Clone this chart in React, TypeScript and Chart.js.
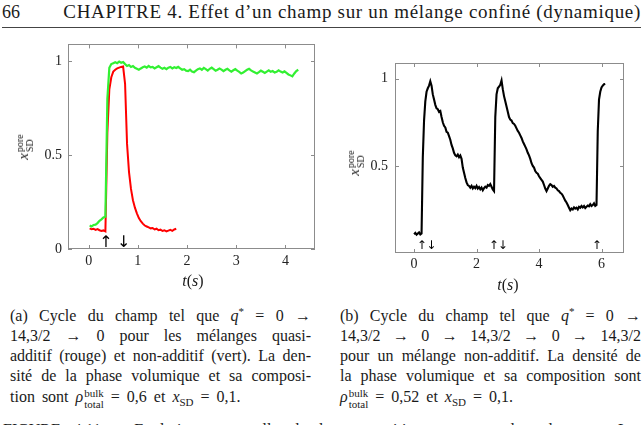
import React, { useEffect, useRef } from "react";
import { Chart, registerables } from "chart.js";
Chart.register(...registerables);

// ---------- data ----------
// left plot: sampled every 0.04 s from t = 0.02 s
const leftStart = 0.02;
const leftStep = 0.04;
const greenValues = [
  0.125, 0.12, 0.128, 0.13, 0.138, 0.15, 0.158, 0.168, 0.172, 0.8,
  0.965, 0.985, 0.99, 0.995, 0.99, 0.998, 0.992, 0.996, 0.985, 0.975,
  0.98, 0.97, 0.975, 0.965, 0.96, 0.955, 0.962, 0.968, 0.972, 0.966,
  0.975, 0.968, 0.97, 0.962, 0.968, 0.974, 0.966, 0.96, 0.965, 0.958,
  0.966, 0.97, 0.962, 0.968, 0.964, 0.97, 0.962, 0.955, 0.958, 0.95,
  0.948, 0.955, 0.945, 0.942, 0.95, 0.958, 0.962, 0.955, 0.965, 0.958,
  0.95, 0.96, 0.966, 0.958, 0.95, 0.955, 0.962, 0.956, 0.948, 0.955,
  0.96, 0.952, 0.945, 0.952, 0.958, 0.95, 0.944, 0.935, 0.94, 0.948,
  0.955, 0.96, 0.952, 0.945, 0.94, 0.935, 0.942, 0.95, 0.944, 0.938,
  0.945, 0.952, 0.944, 0.948, 0.94, 0.944, 0.952, 0.945, 0.94, 0.946,
  0.938, 0.93, 0.925, 0.92, 0.935, 0.948, 0.955,
];
const redValues = [
  0.11, 0.105, 0.108, 0.102, 0.106, 0.1, 0.096, 0.099, 0.094, 0.62,
  0.85, 0.915, 0.945, 0.955, 0.962, 0.966, 0.97, 0.972, 0.88, 0.56,
  0.41, 0.32, 0.26, 0.22, 0.19, 0.165, 0.148, 0.135, 0.125, 0.12,
  0.115, 0.11, 0.112, 0.104, 0.108, 0.1, 0.103, 0.096, 0.1, 0.094,
  0.098, 0.102, 0.097, 0.104, 0.108,
];
// right plot: sampled every 0.04 s from t = 0
const rightStart = 0;
const rightStep = 0.04;
const blackValues = [
  0.108, 0.115, 0.105, 0.112, 0.118, 0.106, 0.112, 0.55, 0.76, 0.87,
  0.925, 0.945, 0.96, 0.985, 0.96, 0.91, 0.88, 0.85, 0.83, 0.825,
  0.81, 0.815, 0.78, 0.75, 0.73, 0.72, 0.695, 0.69, 0.67, 0.65,
  0.62, 0.6, 0.575, 0.56, 0.555, 0.565, 0.55, 0.56, 0.54, 0.49,
  0.46, 0.43, 0.405, 0.39, 0.385, 0.375, 0.385, 0.37, 0.38, 0.372,
  0.385, 0.37, 0.378, 0.365, 0.375, 0.36, 0.372, 0.38, 0.375, 0.39,
  0.385, 0.395, 0.38, 0.365, 0.355, 0.78, 0.91, 0.945, 0.955, 0.965,
  0.99, 0.94, 0.9, 0.87, 0.84, 0.81, 0.78, 0.765, 0.76, 0.745,
  0.74, 0.73, 0.715, 0.7, 0.69, 0.675, 0.66, 0.64, 0.625, 0.61,
  0.595, 0.575, 0.56, 0.54, 0.515, 0.5, 0.49, 0.47, 0.46, 0.455,
  0.44, 0.43, 0.42, 0.41, 0.39, 0.37, 0.355, 0.37, 0.385, 0.395,
  0.39, 0.38, 0.385, 0.375, 0.37, 0.36, 0.355, 0.345, 0.34, 0.33,
  0.315, 0.3, 0.29, 0.275, 0.26, 0.245, 0.255, 0.25, 0.262, 0.255,
  0.26, 0.25, 0.265, 0.26, 0.27, 0.262, 0.27, 0.258, 0.265, 0.272,
  0.268, 0.28, 0.27, 0.275, 0.285, 0.27, 0.275, 0.7, 0.88, 0.925,
  0.95, 0.96, 0.968, 0.97,
];

const leftXTicks = [0, 1, 2, 3, 4];
const leftYTicks = [0, 0.5, 1];
const rightXTicks = [0, 2, 4, 6];
const rightYTicks = [0.5, 1];

const leftArrowTimes = [0.35, 0.71];
const leftArrowSymbols = ["↑", "↓"];
const rightArrowTimes = [0.25, 0.55, 2.55, 2.84, 5.85];
const rightArrowSymbols = ["↑", "↓", "↑", "↓", "↑"];

const SERIF = '"Liberation Serif", "DejaVu Serif", "Times New Roman", Times, serif';

// ---------- helpers ----------
function toPoints(start: number, step: number, values: number[]) {
  return values.map((v, i) => ({ x: +(start + i * step).toFixed(3), y: v }));
}

const framePlugin = {
  id: "frame",
  afterDatasetsDraw(chart: any, _args: any, opts: any) {
    const { ctx, chartArea: a, scales } = chart;
    ctx.save();
    ctx.strokeStyle = "#8c8c8c";
    ctx.lineWidth = 1;
    ctx.strokeRect(Math.round(a.left) + 0.5, Math.round(a.top) + 0.5, Math.round(a.right - a.left) - 1, Math.round(a.bottom - a.top) - 1);
    const L = 4;
    ctx.beginPath();
    opts.xTicks.forEach((v: number) => {
      const px = Math.round(scales.x.getPixelForValue(v)) + 0.5;
      ctx.moveTo(px, a.bottom);
      ctx.lineTo(px, a.bottom - L);
      ctx.moveTo(px, a.top);
      ctx.lineTo(px, a.top + L);
    });
    opts.yTicks.forEach((v: number) => {
      const py = Math.round(scales.y.getPixelForValue(v)) + 0.5;
      ctx.moveTo(a.left, py);
      ctx.lineTo(a.left + L, py);
      ctx.moveTo(a.right, py);
      ctx.lineTo(a.right - L, py);
    });
    ctx.stroke();
    ctx.fillStyle = "#000";
    ctx.font = opts.arrowFont;
    ctx.textAlign = "center";
    ctx.textBaseline = "middle";
    opts.arrowTimes.forEach((t: number, i: number) => {
      ctx.fillText(opts.arrowSymbols[i], scales.x.getPixelForValue(t), scales.y.getPixelForValue(opts.arrowY));
    });
    ctx.restore();
  },
};

type PlotProps = {
  left: number; top: number; width: number; height: number;
  series: { points: { x: number; y: number }[]; color: string; width: number }[];
  xMin: number; xMax: number; yMin: number; yMax: number;
  xTicks: number[]; yTicks: number[];
  yAxisWidth: number; xAxisHeight: number;
  padTop: number; padRight: number;
  xPad: number; yPad: number;
  arrowTimes: number[]; arrowSymbols: string[]; arrowY: number; arrowFont: string;
};

function Plot(p: PlotProps) {
  const ref = useRef<HTMLCanvasElement | null>(null);
  useEffect(() => {
    if (!ref.current) return;
    const tickFont = { family: SERIF, size: 14 };
    const chart = new Chart(ref.current, {
      type: "line",
      data: {
        datasets: p.series.map((s) => ({
          data: s.points,
          borderColor: s.color,
          borderWidth: s.width,
          pointRadius: 0,
          tension: 0,
          fill: false,
        })),
      },
      options: {
        animation: false,
        responsive: false,
        maintainAspectRatio: false,
        layout: { padding: { left: 0, right: p.padRight, top: p.padTop, bottom: 0 }, autoPadding: false },
        plugins: {
          legend: { display: false },
          tooltip: { enabled: false },
          frame: {
            xTicks: p.xTicks, yTicks: p.yTicks,
            arrowTimes: p.arrowTimes, arrowSymbols: p.arrowSymbols, arrowY: p.arrowY, arrowFont: p.arrowFont,
          },
        } as any,
        scales: {
          x: {
            type: "linear",
            min: p.xMin,
            max: p.xMax,
            grid: { display: false, drawTicks: false },
            border: { display: false },
            afterBuildTicks: (s: any) => { s.ticks = p.xTicks.map((v) => ({ value: v })); },
            afterFit: (s: any) => { s.height = p.xAxisHeight; },
            ticks: { font: tickFont, color: "#222", padding: p.xPad, maxRotation: 0, autoSkip: false, callback: (v: any) => String(v) },
          },
          y: {
            type: "linear",
            min: p.yMin,
            max: p.yMax,
            grid: { display: false, drawTicks: false },
            border: { display: false },
            afterBuildTicks: (s: any) => { s.ticks = p.yTicks.map((v) => ({ value: v })); },
            afterFit: (s: any) => { s.width = p.yAxisWidth; },
            ticks: { font: tickFont, color: "#222", padding: p.yPad, autoSkip: false, callback: (v: any) => String(v) },
          },
        },
      } as any,
      plugins: [framePlugin as any],
    });
    return () => chart.destroy();
  }, []);
  return (
    <canvas
      ref={ref}
      width={p.width}
      height={p.height}
      style={{ position: "absolute", left: p.left, top: p.top, width: p.width, height: p.height }}
    />
  );
}

const scriptStack = (sup: string, sub: string, size = 10, raise = 6) => (
  <span
    style={{
      display: "inline-flex",
      flexDirection: "column",
      fontSize: size,
      lineHeight: `${size}px`,
      verticalAlign: `${raise}px`,
      marginLeft: 1,
    }}
  >
    <span>{sup}</span>
    <span>{sub}</span>
  </span>
);

function YTitle({ cx, cy }: { cx: number; cy: number }) {
  return (
    <div
      style={{
        position: "absolute",
        left: cx,
        top: cy,
        transform: "translate(-50%, -50%) rotate(-90deg)",
        whiteSpace: "nowrap",
        fontSize: 15,
        lineHeight: "15px",
      }}
    >
      <i>x</i>
      {scriptStack("pore", "SD", 10, 5)}
    </div>
  );
}

function XTitle({ cx, cy }: { cx: number; cy: number }) {
  return (
    <div
      style={{
        position: "absolute",
        left: cx,
        top: cy,
        transform: "translate(-50%, -50%)",
        whiteSpace: "nowrap",
        fontSize: 16,
        lineHeight: "16px",
      }}
    >
      <i>t</i>(<i>s</i>)
    </div>
  );
}

function JLine({ left, width, top, words, justify = true }: { left: number; width: number; top: number; words: React.ReactNode[]; justify?: boolean }) {
  return (
    <div
      style={{
        position: "absolute",
        left,
        top,
        width,
        display: "flex",
        alignItems: "baseline",
        justifyContent: justify ? "space-between" : "flex-start",
        gap: justify ? 0 : 7,
        whiteSpace: "nowrap",
        fontSize: 16,
        lineHeight: "19px",
      }}
    >
      {words.map((w, i) => (
        <span key={i}>{w}</span>
      ))}
    </div>
  );
}

const qStar = (
  <span>
    <i>q</i>
    <sup style={{ fontSize: 11, verticalAlign: "6px", lineHeight: 0 }}>*</sup>
  </span>
);
const rho = (
  <span>
    <i>ρ</i>
    {scriptStack("bulk", "total", 11, 5)}
  </span>
);
const xSD = (
  <span>
    <i>x</i>
    <sub style={{ fontSize: 11, lineHeight: 0 }}>SD</sub>
  </span>
);

export default function App() {
  const capA = 10;
  const capAW = 301;
  const capB = 340;
  const capBW = 301;
  const lineTops = [306, 326, 346, 366, 387];
  return (
    <div
      style={{
        position: "fixed",
        left: 0,
        top: 0,
        width: 644,
        height: 425,
        overflow: "hidden",
        background: "#fff",
        color: "#1a1a1a",
        fontFamily: SERIF,
      }}
    >
      {/* page header */}
      <div style={{ position: "absolute", left: 2, top: 2, fontSize: 18, lineHeight: "20px" }}>66</div>
      <div style={{ position: "absolute", right: 3, top: 2, fontSize: 19, lineHeight: "20px", letterSpacing: 0.7, whiteSpace: "nowrap" }}>
        CHAPITRE 4. Effet d’un champ sur un mélange confiné (dynamique)
      </div>
      <div style={{ position: "absolute", left: 2, width: 639, top: 27, height: 1, background: "#444" }} />

      {/* plots */}
      <Plot
        left={0}
        top={30}
        width={320}
        height={262}
        series={[
          { points: toPoints(leftStart, leftStep, greenValues), color: "rgb(50,240,50)", width: 2.2 },
          { points: toPoints(leftStart, leftStep, redValues), color: "rgb(255,0,0)", width: 2 },
        ]}
        xMin={-0.42}
        xMax={4.6}
        yMin={0}
        yMax={1.09}
        xTicks={leftXTicks}
        yTicks={leftYTicks}
        yAxisWidth={68}
        xAxisHeight={43}
        padTop={11}
        padRight={5}
        xPad={4}
        yPad={6}
        arrowTimes={leftArrowTimes}
        arrowSymbols={leftArrowSymbols}
        arrowY={0.033}
        arrowFont='16px "DejaVu Sans"'
      />
      <Plot
        left={320}
        top={30}
        width={324}
        height={262}
        series={[{ points: toPoints(rightStart, rightStep, blackValues), color: "#000", width: 2.1 }]}
        xMin={-0.61}
        xMax={6.72}
        yMin={0}
        yMax={1.09}
        xTicks={rightXTicks}
        yTicks={rightYTicks}
        yAxisWidth={75}
        xAxisHeight={39}
        padTop={33}
        padRight={20}
        xPad={3}
        yPad={7}
        arrowTimes={rightArrowTimes}
        arrowSymbols={rightArrowSymbols}
        arrowY={0.04}
        arrowFont='12px "DejaVu Sans"'
      />

      <YTitle cx={25} cy={147} />
      <XTitle cx={193} cy={281} />
      <YTitle cx={356} cy={163} />
      <XTitle cx={508} cy={285} />

      {/* sub-captions */}
      <JLine left={capA} width={capAW} top={lineTops[0]} words={["(a)", "Cycle", "du", "champ", "tel", "que", qStar, "=", "0", "→"]} />
      <JLine left={capA} width={capAW} top={lineTops[1]} words={["14,3/2", "→", "0", "pour", "les", "mélanges", "quasi-"]} />
      <JLine left={capA} width={capAW} top={lineTops[2]} words={["additif", "(rouge)", "et", "non-additif", "(vert).", "La", "den-"]} />
      <JLine left={capA} width={capAW} top={lineTops[3]} words={["sité", "de", "la", "phase", "volumique", "et", "sa", "composi-"]} />
      <JLine left={capA} width={capAW} top={lineTops[4]} justify={false} words={["tion", "sont", rho, "=", "0,6", "et", xSD, "=", "0,1."]} />

      <JLine left={capB} width={capBW} top={lineTops[0]} words={["(b)", "Cycle", "du", "champ", "tel", "que", qStar, "=", "0", "→"]} />
      <JLine left={capB} width={capBW} top={lineTops[1]} words={["14,3/2", "→", "0", "→", "14,3/2", "→", "0", "→", "14,3/2"]} />
      <JLine left={capB} width={capBW} top={lineTops[2]} words={["pour", "un", "mélange", "non-additif.", "La", "densité", "de"]} />
      <JLine left={capB} width={capBW} top={lineTops[3]} words={["la", "phase", "volumique", "et", "sa", "composition", "sont"]} />
      <JLine left={capB} width={capBW} top={lineTops[4]} justify={false} words={[rho, "=", "0,52", "et", xSD, "=", "0,1."]} />

      {/* figure caption (cut by the page edge) */}
      <JLine
        left={3}
        width={638}
        top={420}
        words={["FIGURE", "4.11", "–", "Evolution", "temporelle", "de", "la", "composition", "moyenne", "dans", "le", "pore.", "Les"]}
      />
    </div>
  );
}
